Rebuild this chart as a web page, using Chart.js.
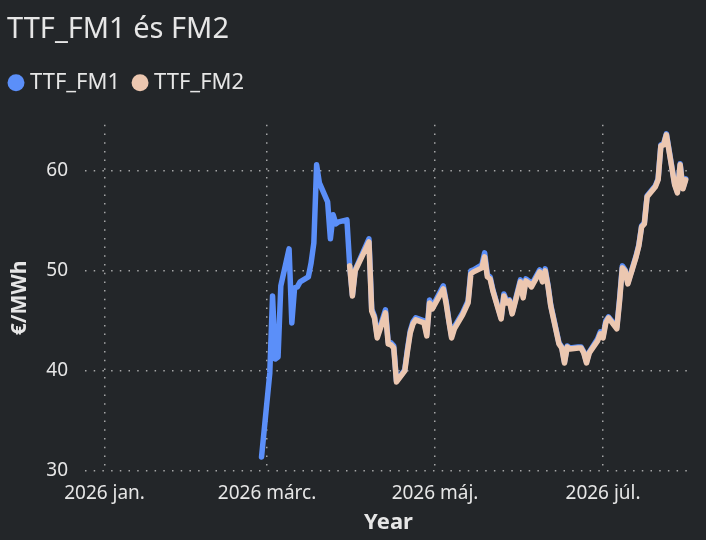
<!DOCTYPE html>
<html>
<head>
<meta charset="utf-8">
<script src="https://cdn.jsdelivr.net/npm/chart.js@4.4.1/dist/chart.umd.min.js"></script>
<style>
  html, body { margin: 0; padding: 0; background: #232629; }
  canvas { display: block; }
</style>
</head>
<body>
<canvas id="myChart" width="706" height="540"></canvas>
<script>
// trading days (FM2 starts on 2026-03-31)
var dates = [
  '2026-02-27',
  '2026-03-02', '2026-03-03', '2026-03-04', '2026-03-05', '2026-03-06',
  '2026-03-09', '2026-03-10', '2026-03-11', '2026-03-12', '2026-03-13',
  '2026-03-16', '2026-03-17', '2026-03-18', '2026-03-19', '2026-03-20',
  '2026-03-23', '2026-03-24', '2026-03-25', '2026-03-26', '2026-03-27',
  '2026-03-30', '2026-03-31', '2026-04-01', '2026-04-02',
  '2026-04-07', '2026-04-08', '2026-04-09', '2026-04-10',
  '2026-04-13', '2026-04-14', '2026-04-15', '2026-04-16', '2026-04-17',
  '2026-04-20', '2026-04-21', '2026-04-22', '2026-04-23', '2026-04-24',
  '2026-04-27', '2026-04-28', '2026-04-29', '2026-04-30',
  '2026-05-04', '2026-05-05', '2026-05-06', '2026-05-07', '2026-05-08',
  '2026-05-11', '2026-05-12', '2026-05-13', '2026-05-14', '2026-05-15',
  '2026-05-18', '2026-05-19', '2026-05-20', '2026-05-21', '2026-05-22',
  '2026-05-25', '2026-05-26', '2026-05-27', '2026-05-28', '2026-05-29',
  '2026-06-01', '2026-06-02', '2026-06-03', '2026-06-04', '2026-06-05',
  '2026-06-08', '2026-06-09', '2026-06-10', '2026-06-11', '2026-06-12',
  '2026-06-15', '2026-06-16', '2026-06-17', '2026-06-18', '2026-06-19',
  '2026-06-22', '2026-06-23', '2026-06-24', '2026-06-25', '2026-06-26',
  '2026-06-29', '2026-06-30', '2026-07-01', '2026-07-02', '2026-07-03',
  '2026-07-06', '2026-07-07', '2026-07-08', '2026-07-09', '2026-07-10',
  '2026-07-13', '2026-07-14', '2026-07-15', '2026-07-16', '2026-07-17',
  '2026-07-20', '2026-07-21', '2026-07-22', '2026-07-23', '2026-07-24',
  '2026-07-27', '2026-07-28', '2026-07-29', '2026-07-30', '2026-07-31'
];

var fm1 = [
  31.4,
  39.8, 47.5, 41.2, 41.4, 48.5,
  52.2, 44.8, 48.3, 48.4, 48.9,
  49.4, 50.8, 52.8, 60.6, 58.8,
  56.9, 53.2, 55.6, 54.7, 54.9,
  55.1, 50.6, 47.6, 50.1,
  53.2, 46.2, 45.5, 43.5,
  46.1, 42.9, 42.8, 42.5, 39.0,
  40.1, 42.2, 44.0, 44.9, 45.3,
  45.0, 43.7, 47.1, 46.4,
  48.5, 47.0, 45.1, 43.5, 44.4,
  45.8, 46.4, 47.0, 50.0, 50.1,
  50.6, 51.8, 49.6, 49.4, 48.1,
  45.3, 47.7, 47.0, 47.1, 45.8,
  49.1, 47.5, 49.2, 49.0, 48.6,
  50.1, 49.0, 50.2, 48.6, 46.6,
  42.8, 42.4, 40.9, 42.5, 42.3,
  42.4, 42.4, 41.9, 40.9, 41.9,
  43.2, 43.9, 43.5, 45.0, 45.4,
  44.4, 47.2, 50.5, 50.1, 48.8,
  51.5, 52.6, 54.5, 54.8, 57.5,
  58.5, 59.2, 62.6, 62.7, 63.7,
  58.7, 57.9, 60.7, 58.3, 59.2
];

var fm2 = [
  null,
  null, null, null, null, null,
  null, null, null, null, null,
  null, null, null, null, null,
  null, null, null, null, null,
  null, 50.5, 47.5, 50.0,
  52.9, 46.0, 45.3, 43.3,
  45.8, 42.7, 42.6, 42.3, 38.9,
  40.0, 42.0, 43.8, 44.7, 45.1,
  44.8, 43.5, 46.8, 46.2,
  48.2, 46.8, 45.0, 43.3, 44.2,
  45.6, 46.2, 46.8, 49.7, 49.9,
  50.3, 51.4, 49.4, 49.2, 48.0,
  45.2, 47.5, 46.8, 47.0, 45.7,
  48.9, 47.3, 49.0, 48.8, 48.4,
  49.9, 48.9, 50.0, 48.5, 46.5,
  42.7, 42.3, 40.8, 42.4, 42.2,
  42.3, 42.3, 41.8, 40.8, 41.8,
  43.0, 43.7, 43.3, 44.8, 45.3,
  44.2, 47.0, 50.3, 50.0, 48.7,
  51.4, 52.5, 54.4, 54.7, 57.4,
  58.4, 59.1, 62.5, 62.6, 63.6,
  58.6, 57.8, 60.6, 58.2, 59.1
];

var tickDates = ['2026-01-01', '2026-03-01', '2026-05-01', '2026-07-01'];
var tickLabels = ['2026 jan.', '2026 márc.', '2026 máj.', '2026 júl.'];
var yTicks = [30, 40, 50, 60];

// days since 2026-01-01
function dayOf(s) {
  var p = s.split('-');
  return (Date.UTC(+p[0], +p[1] - 1, +p[2]) - Date.UTC(2026, 0, 1)) / 86400000;
}

function points(values) {
  return dates.map(function (d, i) { return { x: dayOf(d), y: values[i] }; });
}

var textColor = '#e6e6e6';
var gridColor = 'rgba(210,210,210,0.75)';

Chart.defaults.font.family = "'Segoe UI', 'Noto Sans', sans-serif";

// extra room under the legend, and pull the legend a bit to the left
var legendSpacer = {
  id: 'legendSpacer',
  beforeInit: function (chart) {
    var fit = chart.legend.fit;
    chart.legend.fit = function () {
      fit.bind(chart.legend)();
      this.height += 21;
    };
  },
  afterLayout: function (chart) {
    chart.legend.left -= 11;
  }
};

var ctx = document.getElementById('myChart').getContext('2d');

var myChart = new Chart(ctx, {
  type: 'line',
  data: {
    datasets: [
      {
        label: 'TTF_FM1',
        data: points(fm1),
        borderColor: '#5b8ff9',
        backgroundColor: '#5b8ff9',
        borderWidth: 5.5,
        pointRadius: 0,
        borderJoinStyle: 'round',
        borderCapStyle: 'round',
        order: 1
      },
      {
        label: 'TTF_FM2',
        data: points(fm2),
        borderColor: '#ecc7b0',
        backgroundColor: '#ecc7b0',
        borderWidth: 5.5,
        pointRadius: 0,
        borderJoinStyle: 'round',
        borderCapStyle: 'round',
        order: 0
      }
    ]
  },
  options: {
    responsive: false,
    animation: false,
    layout: { padding: { left: 7, right: 14, top: 0, bottom: 0 } },
    plugins: {
      tooltip: { enabled: false },
      title: {
        display: true,
        text: 'TTF_FM1 és FM2',
        align: 'start',
        color: textColor,
        font: { size: 29, weight: 'normal' },
        padding: { top: 12, bottom: 8 }
      },
      legend: {
        position: 'top',
        align: 'start',
        labels: {
          usePointStyle: true,
          pointStyle: 'circle',
          boxWidth: 6,
          boxHeight: 12,
          color: textColor,
          font: { size: 22 },
          padding: 17,
          sort: function (a, b) { return a.datasetIndex - b.datasetIndex; },
          generateLabels: function (chart) {
            var items = Chart.defaults.plugins.legend.labels.generateLabels(chart);
            items.forEach(function (it) { it.lineWidth = 0; });
            return items;
          }
        }
      }
    },
    scales: {
      x: {
        type: 'linear',
        min: -7.1,
        max: 213.3,
        afterBuildTicks: function (scale) {
          scale.ticks = tickDates.map(function (d) { return { value: dayOf(d) }; });
        },
        afterFit: function (scale) { scale.height = 69; },
        ticks: {
          color: textColor,
          font: { size: 19 },
          padding: 11,
          maxRotation: 0,
          autoSkip: false,
          callback: function (value) {
            var i = tickDates.map(dayOf).indexOf(value);
            return i >= 0 ? tickLabels[i] : '';
          }
        },
        grid: {
          color: gridColor,
          lineWidth: 1.5,
          drawTicks: false
        },
        border: { display: false, dash: [1.5, 7.2] },
        title: {
          display: true,
          text: 'Year',
          color: textColor,
          font: { size: 22, weight: 'bold' },
          padding: { top: 4, bottom: 4 }
        }
      },
      y: {
        min: 30,
        max: 64.6,
        afterBuildTicks: function (scale) {
          scale.ticks = yTicks.map(function (v) { return { value: v }; });
        },
        afterFit: function (scale) { scale.width = 78; },
        ticks: {
          color: textColor,
          font: { size: 19 },
          padding: 17
        },
        grid: {
          color: gridColor,
          lineWidth: 1.5,
          drawTicks: false
        },
        border: { display: false, dash: [1.5, 7.2] },
        title: {
          display: true,
          text: '€/MWh',
          color: textColor,
          font: { size: 21, weight: 'bold' },
          padding: { top: 0, bottom: 0 }
        }
      }
    }
  },
  plugins: [legendSpacer]
});
</script>
</body>
</html>
